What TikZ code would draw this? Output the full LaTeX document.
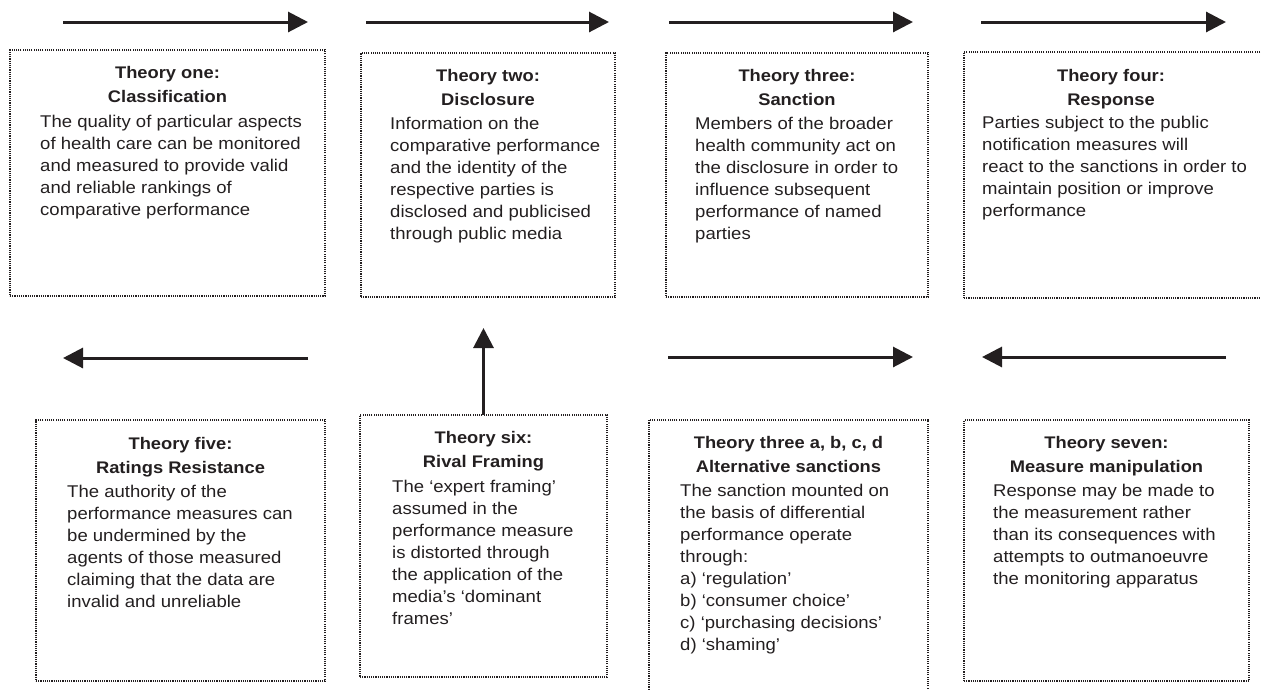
\documentclass[tikz,border=0pt]{standalone}
\usepackage{fontspec}
\setmainfont{Liberation Sans}[FakeStretch=1.09]
\usetikzlibrary{arrows.meta}
\definecolor{ink}{HTML}{231F20}
\newcommand\myst{\rule{0pt}{12.5pt}}
\begin{document}
\begin{tikzpicture}[x=1pt,y=-1pt,
  box/.style={draw=ink, line width=1.1pt, dash pattern=on 1.1pt off 1.1pt, anchor=north west, inner sep=0pt, outer sep=0pt},
  head/.style={anchor=north, inner sep=0pt, align=center, text=ink, font=\bfseries\fontsize{16.8}{24}\selectfont},
  body/.style={anchor=north west, inner sep=0pt, align=left, text=ink, font=\fontsize{17}{22}\selectfont},
  arr/.style={draw=ink, line width=3pt, -{Triangle[length=20pt,width=20pt]}}
]
\useasboundingbox (0,0) rectangle (1261,689);

% ---------- top row ----------
\node[box, minimum width=315pt, minimum height=246pt] (b1) at (10,50) {};
\node[head] (h1) at (167.5,78-12.5) {\myst Theory one:\\Classification};
\node[body] (t1) at (40,127-12.5) {\myst The quality of particular aspects\\of health care can be monitored\\and measured to provide valid\\and reliable rankings of\\comparative performance};

\node[box, minimum width=254pt, minimum height=244pt] (b2) at (361,53) {};
\node[head] (h2) at (488,81-12.5) {\myst Theory two:\\Disclosure};
\node[body] (t2) at (390,129-12.5) {\myst Information on the\\comparative performance\\and the identity of the\\respective parties is\\disclosed and publicised\\through public media};

\node[box, minimum width=262pt, minimum height=244pt] (b3) at (666,53) {};
\node[head] (h3) at (797,81-12.5) {\myst Theory three:\\Sanction};
\node[body] (t3) at (695,129-12.5) {\myst Members of the broader\\health community act on\\the disclosure in order to\\influence subsequent\\performance of named\\parties};

\node[box, minimum width=300pt, minimum height=246pt] (b4) at (964,52) {};
\node[head] (h4) at (1111,81-12.5) {\myst Theory four:\\Response};
\node[body] (t4) at (982,128-12.5) {\myst Parties subject to the public\\notification measures will\\react to the sanctions in order to\\maintain position or improve\\performance};

% ---------- bottom row ----------
\node[box, minimum width=289pt, minimum height=261pt] (b5) at (36,420) {};
\node[head] (h5) at (180.5,449-12.5) {\myst Theory five:\\Ratings Resistance};
\node[body] (t5) at (67,497-12.5) {\myst The authority of the\\performance measures can\\be undermined by the\\agents of those measured\\claiming that the data are\\invalid and unreliable};

\node[box, minimum width=247pt, minimum height=262pt] (b6) at (360,415) {};
\node[head] (h6) at (483.5,443-12.5) {\myst Theory six:\\Rival Framing};
\node[body] (t6) at (392,492-12.5) {\myst The ‘expert framing’\\assumed in the\\performance measure\\is distorted through\\the application of the\\media’s ‘dominant\\frames’};

\node[box, minimum width=279pt, minimum height=280pt] (b8) at (649,420) {};
\node[head] (h8) at (788.5,448-12.5) {\myst Theory three a, b, c, d\\Alternative sanctions};
\node[body] (t8) at (680,496-12.5) {\myst The sanction mounted on\\the basis of differential\\performance operate\\through:\\a) ‘regulation’\\b) ‘consumer choice’\\c) ‘purchasing decisions’\\d) ‘shaming’};

\node[box, minimum width=285pt, minimum height=261pt] (b7) at (964,420) {};
\node[head] (h7) at (1106.5,448-12.5) {\myst Theory seven:\\Measure manipulation};
\node[body] (t7) at (993,496-12.5) {\myst Response may be made to\\the measurement rather\\than its consequences with\\attempts to outmanoeuvre\\the monitoring apparatus};

% ---------- arrows ----------
\coordinate (a1s) at (63,22);   \coordinate (a1e) at (308,22);
\coordinate (a2s) at (366,22);  \coordinate (a2e) at (609,22);
\coordinate (a3s) at (669,22);  \coordinate (a3e) at (913,22);
\coordinate (a4s) at (981,22);  \coordinate (a4e) at (1226,22);
\coordinate (a5s) at (308,358); \coordinate (a5e) at (63,358);
\coordinate (a8s) at (668,357); \coordinate (a8e) at (913,357);
\coordinate (a7s) at (1226,357);\coordinate (a7e) at (982,357);
\coordinate (a6e) at (483.5,328);

\draw[arr] (a1s) -- (a1e);
\draw[arr] (a2s) -- (a2e);
\draw[arr] (a3s) -- (a3e);
\draw[arr] (a4s) -- (a4e);
\draw[arr] (a5s) -- (a5e);
\draw[arr] (b6.north) -- (a6e);
\draw[arr] (a8s) -- (a8e);
\draw[arr] (a7s) -- (a7e);
\end{tikzpicture}
\end{document}
